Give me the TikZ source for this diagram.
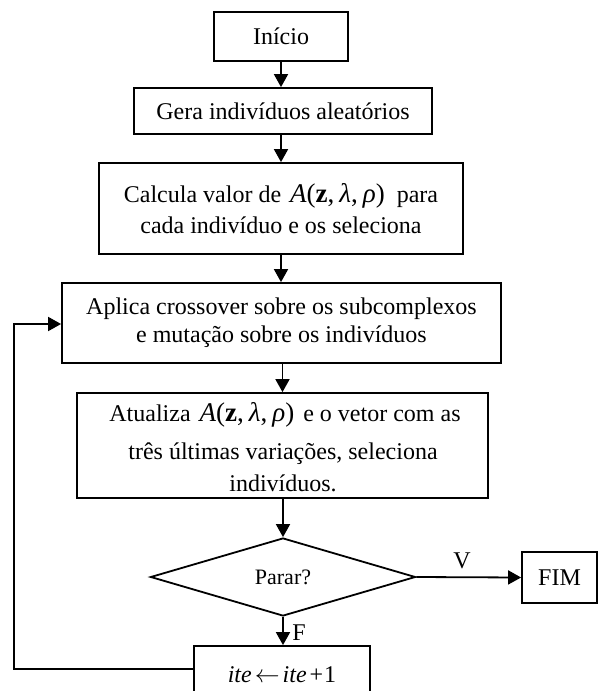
\documentclass[tikz,border=0pt]{standalone}
\usepackage{fontspec}
\setmainfont{Liberation Serif}
\usetikzlibrary{arrows.meta,shapes.geometric}
% objective function, set a little larger than the running text
\newcommand{\Afun}{{\fontsize{27}{27}\selectfont\textit{A}(\textbf{z},\hspace{5pt}\textit{λ},\hspace{5pt}\textit{ρ})}}

\begin{document}
\begin{tikzpicture}[x=1pt,y=-1pt,
  every node/.style={font=\fontsize{24}{28}\selectfont},
  box/.style={draw, line width=1.8pt, inner sep=0pt, align=center},
  decision/.style={draw, diamond, line width=1.8pt, inner sep=0pt,
    minimum width=265pt, minimum height=78pt, aspect=3.4},
  flow/.style={line width=1.8pt, -{Triangle[length=13pt,width=14pt]}},
  tag/.style={font=\fontsize{24}{24}\selectfont, inner sep=0pt}]
\useasboundingbox (0,0) rectangle (598,691);
\clip (0,0) rectangle (598,691);

% process boxes
\node[box, minimum width=134pt, minimum height=49pt] (ini) at (281,36.5) {Início};
\node[box, minimum width=298pt, minimum height=46pt] (gera) at (283,111) {Gera indivíduos aleatórios};
\node[box, minimum width=364pt, minimum height=91pt] (calc) at (281,208.5)
  {Calcula valor de\hspace{9pt}\Afun\hspace{12pt}para\\[3pt]cada indivíduo e os seleciona};
\node[box, minimum width=439pt, minimum height=80pt] (apl) at (281.5,323)
  {Aplica crossover sobre os subcomplexos\\e mutação sobre os indivíduos};
\node[box, minimum width=411pt, minimum height=105pt] (atu) at (282.5,445.5) {};
\node[anchor=base, inner sep=0pt] (atuA) at (285,421)
  {Atualiza\hspace{9pt}\Afun\hspace{9pt}e o vetor com as};
\node[anchor=base, inner sep=0pt] (atuB) at (283,459) {três últimas variações, seleciona};
\node[anchor=base, inner sep=0pt] (atuC) at (283,491) {indivíduos.};

% decision and terminals
\node[decision] (stop) at (283,577) {\fontsize{22}{22}\selectfont Parar?};
\node[box, minimum width=75pt, minimum height=51pt] (fim) at (559.5,577.5) {FIM};
\node[box, minimum width=176pt, minimum height=58pt] (inc) at (282,675)
  {\textit{ite}\hspace{3pt}$\leftarrow$\hspace{3pt}\textit{ite}\hspace{3pt}+\hspace{1pt}1};

% connectors
\draw[flow] (ini.south) -- (ini.south |- gera.north);
\draw[flow] (gera.south -| calc.north) -- (calc.north);
\draw[flow] (calc.south) -- (calc.south |- apl.north);
\draw[flow] (apl.south -| atu.north) -- (atu.north);
\draw[flow] (atu.south -| stop.north) -- (stop.north);
\draw[flow] (stop.east) -- (fim.west);
\draw[flow] (stop.south) -- (stop.south |- inc.north);
\coordinate (loopB) at (14,669);
\coordinate (loopT) at (14,324);
\draw[flow] (inc.west |- loopB) -- (loopB) -- (loopT) -- (apl.west |- loopT);

% branch labels
\node[tag] (lv) at (462,561) {V};
\node[tag] (lf) at (299,633) {F};
\end{tikzpicture}
\end{document}
